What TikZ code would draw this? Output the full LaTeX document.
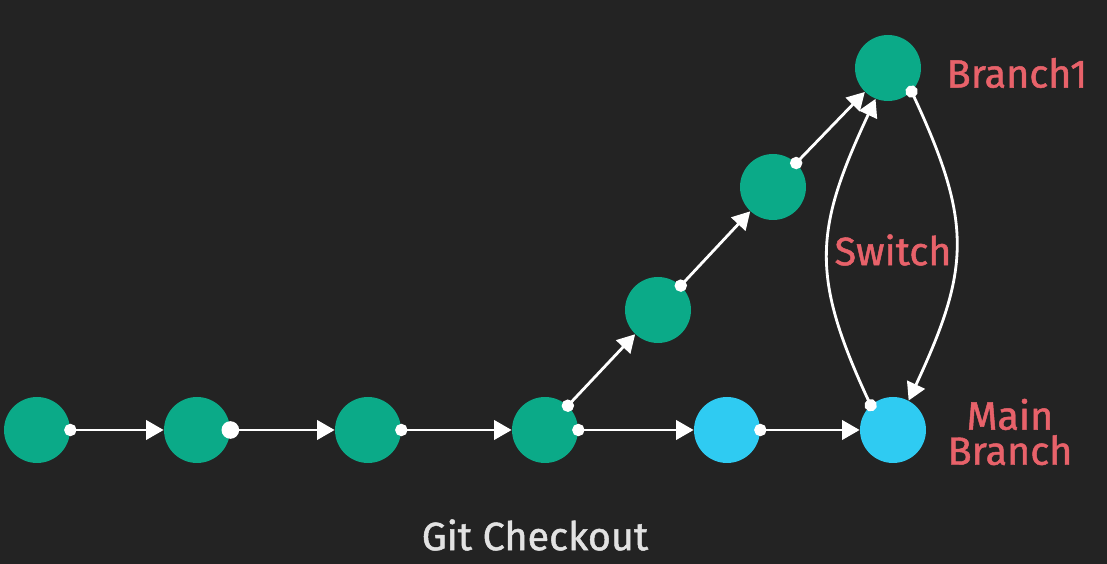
\documentclass[tikz,border=0pt]{standalone}
\usepackage{fontspec}
\setmainfont{Fira Sans}[FakeBold=1.2]
\usetikzlibrary{arrows.meta}
\definecolor{bg}{HTML}{232323}
\definecolor{commitgreen}{HTML}{0BAA88}
\definecolor{commitblue}{HTML}{2FCBF2}
\definecolor{labelred}{HTML}{E8626A}
\definecolor{captiongray}{HTML}{E2E2E2}
\tikzset{
  commit/.style={circle,fill=commitgreen,minimum size=1.32cm,inner sep=0pt},
  maincommit/.style={commit,fill=commitblue},
  link/.style={white,line width=1.6pt,{Circle[length=7pt]}-{Triangle[length=10pt,width=11pt]},shorten <=-3.5pt},
  tag/.style={text=labelred,font=\fontsize{22.5}{20}\selectfont,align=center},
}

\begin{document}
\begin{tikzpicture}[x=0.02cm,y=0.02cm]
      \fill[bg] (0,0) rectangle (1107,564);
      % main line
      \node[commit] (c1) at (37,134) {};
      \node[commit] (c2) at (197,134) {};
      \node[commit] (c3) at (368,134) {};
      \node[commit] (c4) at (545,134) {};
      \node[maincommit] (m1) at (727,134) {};
      \node[maincommit] (m2) at (893,134) {};
      % branch line
      \node[commit] (b1) at (658,254) {};
      \node[commit] (b2) at (773,377) {};
      \node[commit] (b3) at (888,496) {};
      \draw[link] (c1) -- (c2);
      \draw[link,{Circle[length=10pt]}-{Triangle[length=10pt,width=11pt]},shorten <=-5pt] (c2) -- (c3);
      \draw[link] (c3) -- (c4);
      \draw[link] (c4) -- (m1);
      \draw[link] (m1) -- (m2);
      \draw[link] (c4) -- (b1);
      \draw[link] (b1) -- (b2);
      \draw[link] (b2) -- (b3);
      \draw[link] (b3.-45) to[out=-65,in=65,looseness=1.2] (m2.62);
      \draw[link] (m2.132) to[out=115,in=-115,looseness=1.2] (b3.-112);
      \node[tag] (lb1) at (1017,491) {Branch1};
      \node[tag] (lsw) at (893,314) {Switch};
      \node[tag] (lmain) at (1010,132) {Main\\Branch};
      \node[text=captiongray,font=\fontsize{22.5}{20}\selectfont] (cap) at (535,29) {Git Checkout};
\end{tikzpicture}
\end{document}
